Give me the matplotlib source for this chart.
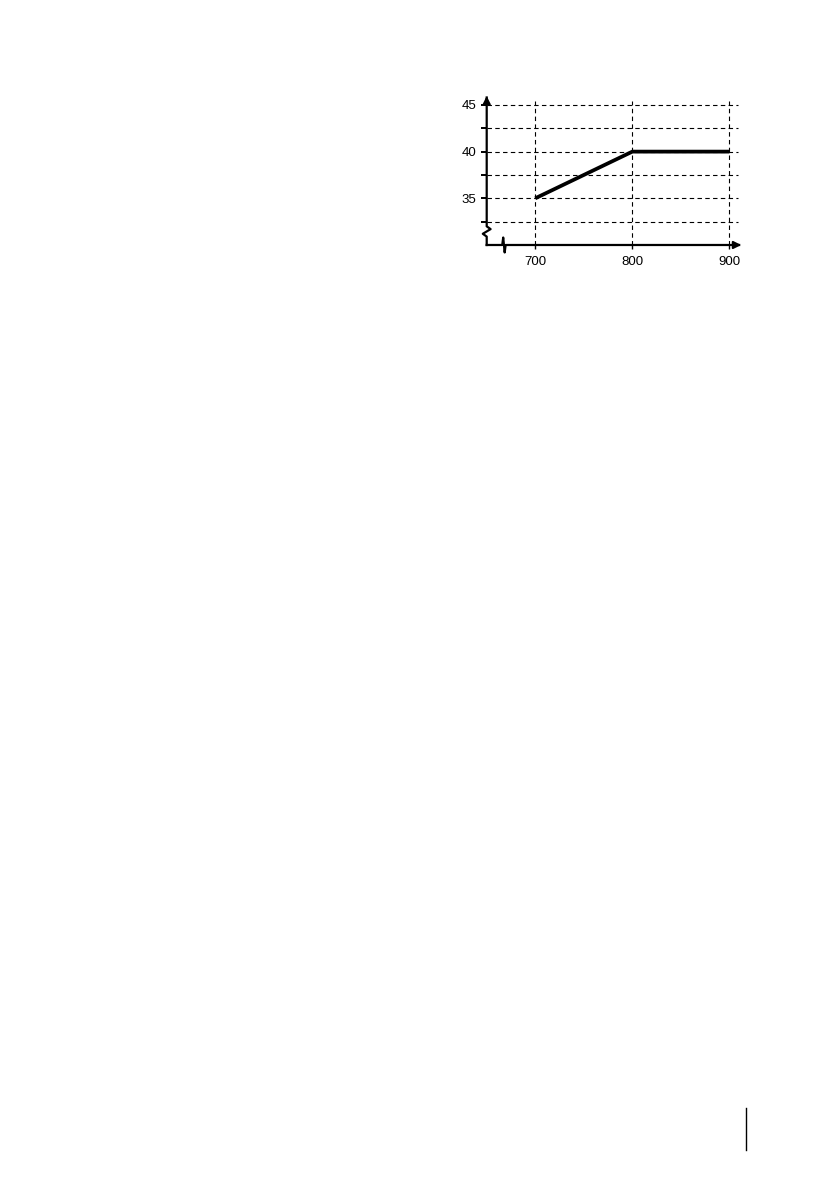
import matplotlib
matplotlib.use('Agg')
from matplotlib import pyplot as plt
from matplotlib.lines import Line2D

plt.rcParams['font.family'] = ['Liberation Sans', 'DejaVu Sans']

# data
x_vals = [700, 800, 900]
y_vals = [35, 40, 40]
x_ticks = [700, 800, 900]
y_major = [35, 40, 45]
y_minor = [32.5, 37.5, 42.5]

x_lo, x_hi = 650, 915
y_lo, y_hi = 30, 46.25

fig = plt.figure(figsize=(8.39, 11.91), dpi=100)
ax = fig.add_axes([0.5801, 0.7943, 0.3067, 0.1274])
ax.set_xlim(x_lo, x_hi)
ax.set_ylim(y_lo, y_hi)
for s in ax.spines.values():
    s.set_visible(False)

dash = (0, (4, 3))
# horizontal grid
for y in y_major + y_minor:
    ax.plot([x_lo, 909], [y, y], color='k', lw=0.8, ls=dash, zorder=1)
# vertical grid
for x in x_ticks:
    ax.plot([x, x], [y_lo, 45.4], color='k', lw=0.8, ls=dash, zorder=1)

# data line
ax.plot(x_vals, y_vals, color='k', lw=2.7, solid_capstyle='butt', zorder=3)

# y axis with break
ax.plot([x_lo, x_lo, 646, 654, x_lo, x_lo],
        [y_lo, 30.9, 31.2, 31.7, 32.0, 45.8],
        color='k', lw=1.6, clip_on=False, zorder=4)
ax.annotate('', xy=(x_lo, y_hi), xytext=(x_lo, 45.0),
            arrowprops=dict(arrowstyle='-|>', color='k', lw=1.5, mutation_scale=11),
            annotation_clip=False)
# x axis with break
ax.plot([x_lo, 666, 667, 668.5, 669.5, 910],
        [y_lo, y_lo, 30.8, 29.2, y_lo, y_lo],
        color='k', lw=1.6, clip_on=False, zorder=4)
ax.annotate('', xy=(x_hi, y_lo), xytext=(900, y_lo),
            arrowprops=dict(arrowstyle='-|>', color='k', lw=1.5, mutation_scale=11),
            annotation_clip=False)

ax.set_xticks(x_ticks)
ax.set_yticks(y_major)
ax.set_yticks(y_minor, minor=True)
ax.tick_params(axis='y', which='both', direction='out', length=4.5, width=1.4, pad=3,
               labelsize=9.5)
ax.tick_params(axis='x', which='both', direction='out', length=3, width=1.0, pad=5,
               labelsize=9.5)

# page marker at bottom right
fig.add_artist(Line2D([745.5 / 839, 745.5 / 839], [1 - 1108 / 1191, 1 - 1150 / 1191],
                      color='k', lw=1.0))

fig.savefig('out.png', dpi=100)
